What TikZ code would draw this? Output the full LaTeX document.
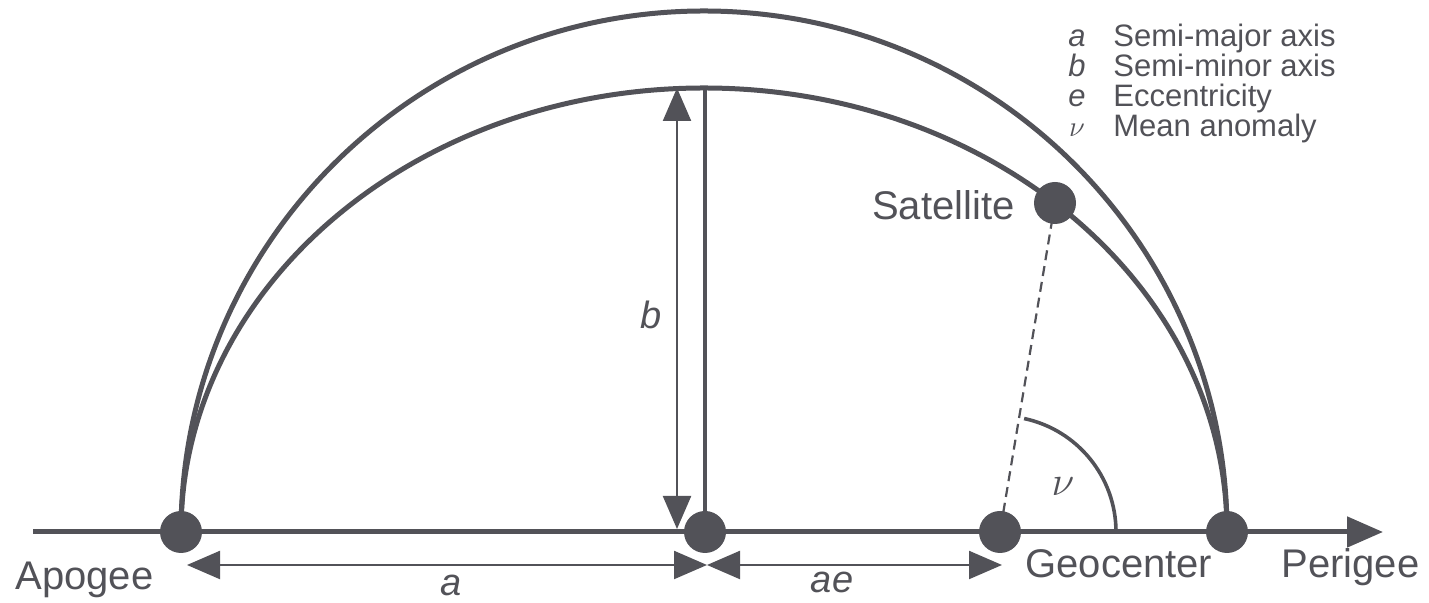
\documentclass[tikz,border=0pt]{standalone}
\usepackage{fontspec}
\setmainfont{Liberation Sans}
\usetikzlibrary{arrows.meta,backgrounds}
\definecolor{ink}{RGB}{82,82,88}
\begin{document}
\begin{tikzpicture}[x=0.5pt,y=0.5pt,line join=round,
  dot/.style={circle,fill=ink,inner sep=0pt,minimum size=21pt},
  lbl/.style={text=ink,font=\fontsize{20}{24}\selectfont,inner sep=0pt},
  sym/.style={text=ink,font=\fontsize{19}{23}\selectfont\itshape,inner sep=0pt},
  leg/.style={text=ink,font=\fontsize{15.5}{18}\selectfont,inner sep=0pt,anchor=base west},
  legsym/.style={text=ink,font=\fontsize{15.5}{18}\selectfont\itshape,inner sep=0pt,anchor=base},
  curve/.style={draw=ink,line width=2.5pt},
  axisline/.style={draw=ink,line width=2.5pt,-{Triangle[length=18pt,width=15pt]}},
  minor/.style={draw=ink,line width=2pt},
  dim/.style={draw=ink,line width=1.1pt,{Triangle[length=16.5pt,width=14pt]}-{Triangle[length=16.5pt,width=14pt]}},
  radial/.style={draw=ink,line width=1.1pt,dash pattern=on 5pt off 3pt},
  anglearc/.style={draw=ink,line width=1.8pt},
]
\useasboundingbox (0,0) rectangle (1429,603);
% points
\node[dot] (A) at (181,71) {};
\node[dot] (C) at (705,71) {};
\node[dot] (G) at (1000,71) {};
\node[dot] (P) at (1227,71) {};
\node[dot] (S) at (1055,400) {};
\coordinate (axL) at (33,71);
\coordinate (axR) at (1383,71);
\coordinate (btop) at (705,515);
\coordinate (bT) at (677,515);
\coordinate (bB) at (677,74);
\coordinate (aL) at (187,38);
\coordinate (aM) at (707,38);
\coordinate (aR) at (1002,38);
\begin{scope}[on background layer]
  \draw[axisline] (axL) -- (axR);
  \draw[curve] (A.center) arc[start angle=180,end angle=0,x radius=523,y radius=521];
  \draw[curve] (A.center) arc[start angle=180,end angle=0,x radius=523,y radius=444];
  \draw[minor] (C.center) -- (btop);
  \draw[radial] (S.center) -- (G.center);
  \draw[anglearc] ([shift={(0:116)}]G.center) arc[start angle=0,end angle=78,radius=116];
\end{scope}
\draw[dim] (bB) -- (bT);
\draw[dim] (aL) -- (aM);
\draw[dim] (aM) -- (aR);
% labels
\node[lbl,anchor=base west] (lA) at (15,13) {Apogee};
\node[lbl,anchor=base west] (lG) at (1025,25) {Geocenter};
\node[lbl,anchor=base west] (lP) at (1281,25) {Perigee};
\node[lbl,anchor=base east] (lS) at (1015,383) {Satellite};
\node[sym,anchor=base] (la) at (451,7) {a};
\node[sym,anchor=base] (lae) at (832,10) {ae};
\node[sym] (lb) at (651,288) {b};
\node[text=ink,inner sep=0pt] (lnu) at (1063,116) {\fontsize{21}{24}\selectfont$\nu$};
% legend
\node[legsym] (k1) at (1077,556) {a};
\node[leg] (t1) at (1113,556) {Semi-major axis};
\node[legsym] (k2) at (1077,526) {b};
\node[leg] (t2) at (1113,526) {Semi-minor axis};
\node[legsym] (k3) at (1077,496) {e};
\node[leg] (t3) at (1113,496) {Eccentricity};
\node[text=ink,inner sep=0pt,anchor=base] (k4) at (1077,466) {\fontsize{15.5}{18}\selectfont$\nu$};
\node[leg] (t4) at (1113,466) {Mean anomaly};
\end{tikzpicture}
\end{document}
